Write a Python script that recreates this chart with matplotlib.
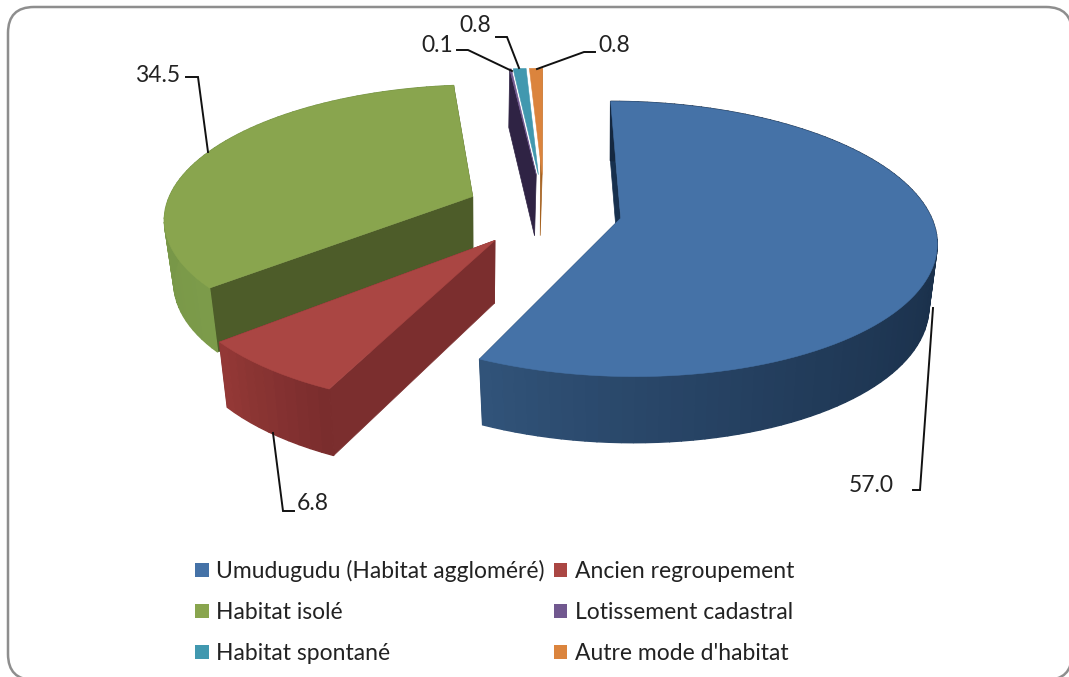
import numpy as np
import matplotlib
matplotlib.use("Agg")
import matplotlib.pyplot as plt
from matplotlib.patches import FancyBboxPatch, Patch

categories = ["Umudugudu (Habitat aggloméré)", "Ancien regroupement", "Habitat isolé",
              "Lotissement cadastral", "Habitat spontané", "Autre mode d'habitat"]
values = [57.0, 6.8, 34.5, 0.1, 0.8, 0.8]
value_labels = ["57.0", "6.8", "34.5", "0.1", "0.8", "0.8"]
top_colors = ["#4572A7", "#AA4643", "#89A54E", "#71588F", "#4198AF", "#DB843D"]
radial_colors = ["#17304E", "#7B2E2E", "#4D5C29", "#2F2344", "#2F6F80", "#A5611F"]
rim_start = ["#152840", "#7A2D2D", "#7C9B4A", "#2F2344", "#2F6F80", "#A5611F"]
rim_end = ["#315379", "#933836", "#6F8D42", "#2F2344", "#2F6F80", "#A5611F"]
rim_power = [2.5, 1, 1, 1, 1, 1]
# which radial walls of each slice can be seen (0 = start edge, -1 = end edge)
seen_walls = [(0, -1), (0, -1), (0, -1), (0,), (), (-1,)]
# x the walls of each slice recede towards
vanish_x = [600, 480, 480, 480, 480, 480]
vanish_t = [0.025, 0.03, 0.03, 0.03, 0.03, 0.03]

plt.rcParams["font.family"] = ["Lato", "DejaVu Sans"]
W, H = 1069, 677
fig = plt.figure(figsize=(W / 100, H / 100), dpi=100, facecolor="white")
ax = fig.add_axes([0, 0, 1, 1])
ax.set_xlim(0, W)
ax.set_ylim(H, 0)
ax.axis("off")

ax.add_patch(FancyBboxPatch((8, 7), 1064, 673, boxstyle="round,pad=0,rounding_size=26",
                            fc="white", ec="#8E8E8E", lw=1.8, zorder=0))

# Projection of the tilted pie onto the page
CX, CY, RX, RY, PERSP = 544, 210, 308, 132, 0.15
EXPL_X, EXPL_Y = 0.253, 0.28
DRAW_ORDER = [2, 1, 3, 4, 5, 0]


def project(x, y):
    s = 1 / (1 + PERSP * y)
    return CX + x * RX * s, CY - y * RY * s, s


def extrude(px, py, s, i):
    return px + (vanish_x[i] - px) * vanish_t[i], py + 40 + 22 * s


def hexrgb(c):
    return np.array(matplotlib.colors.to_rgb(c))


bounds = np.concatenate([[0], np.cumsum(values)]) / sum(values) * 2 * np.pi

for i in DRAW_ORDER:
    a0, a1 = bounds[i], bounds[i + 1]
    z = 2 + DRAW_ORDER.index(i)
    mid = (a0 + a1) / 2
    ox, oy = EXPL_X * np.sin(mid), EXPL_Y * np.cos(mid)
    th = np.linspace(a0, a1, max(3, int((a1 - a0) * 30)))
    rx_pts, ry_pts, rs = project(ox + np.sin(th), oy + np.cos(th))
    apx, apy, aps = project(ox, oy)
    bx, by = extrude(rx_pts, ry_pts, rs, i)
    abx, aby = extrude(apx, apy, aps, i)

    # radial walls
    for k in seen_walls[i]:
        ax.fill([apx, rx_pts[k], bx[k], abx], [apy, ry_pts[k], by[k], aby],
                fc=radial_colors[i], ec=radial_colors[i], lw=0.5, zorder=z)
    # rim wall, shaded facet by facet
    n = len(th) - 1
    if values[i] >= 1:
        for j in range(n):
            t = (j / max(n - 1, 1)) ** rim_power[i]
            c = hexrgb(rim_start[i]) * (1 - t) + hexrgb(rim_end[i]) * t
            ax.fill([rx_pts[j], rx_pts[j + 1], bx[j + 1], bx[j]],
                    [ry_pts[j], ry_pts[j + 1], by[j + 1], by[j]],
                    fc=c, ec=c, lw=1.0, zorder=z)
    # top face
    ax.fill(np.r_[apx, rx_pts], np.r_[apy, ry_pts], fc=top_colors[i], ec=top_colors[i],
            lw=0.4, zorder=z)

# Data labels with leader lines
label_style = dict(fontsize=16.5, color="#222222", va="center", ha="left", zorder=20)
leaders = [
    (0, (849, 486), [(913, 490), (920, 490), (933, 308)]),
    (1, (297, 504), [(273, 433), (283, 511), (294, 511)]),
    (2, (135, 76), [(186, 77), (198, 77), (208, 152)]),
    (3, (421, 46), [(457, 50), (468, 50), (512, 71)]),
    (4, (459, 26), [(496, 37), (507, 37), (519, 68)]),
    (5, (598, 45), [(595, 52), (584, 52), (537, 69)]),
]
for idx, pos, path in leaders:
    ax.text(pos[0], pos[1], value_labels[idx], **label_style)
    xs, ys = zip(*path)
    ax.plot(xs, ys, color="#111111", lw=1.4, zorder=19, solid_joinstyle="miter")

# matplotlib fills legend columns first, the chart reads row by row
order = [0, 2, 4, 1, 3, 5]
handles = [Patch(fc=top_colors[k], ec="none") for k in order]
leg = ax.legend(handles, [categories[k] for k in order], ncol=2, frameon=False, fontsize=16.5,
                loc="upper left", bbox_to_anchor=(0.1824, 0.173),
                handlelength=0.6, handleheight=0.55, handletextpad=0.32,
                labelspacing=0.87, columnspacing=0.4, labelcolor="#222222", borderpad=0, borderaxespad=0)

fig.savefig("out.png", dpi=100)
